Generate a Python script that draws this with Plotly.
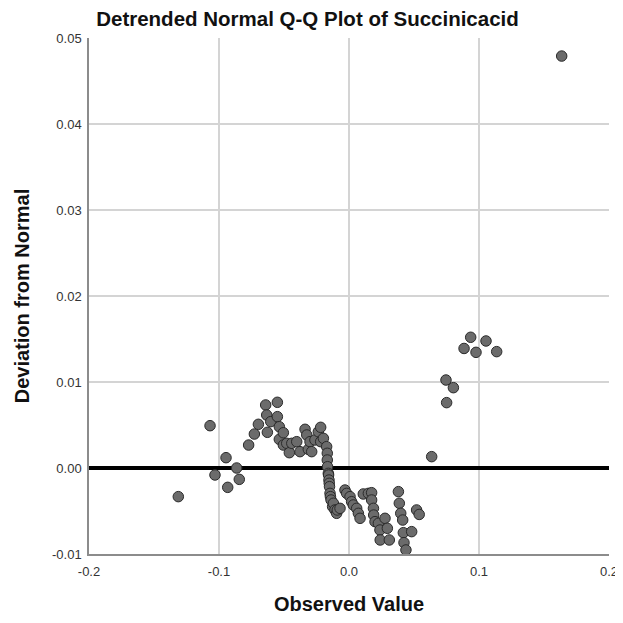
import plotly.graph_objects as go

observed = [
    -0.1313, -0.1069, -0.1031, -0.0946, -0.0933, -0.0864, -0.0844, -0.0772, -0.0728, -0.0697,
    -0.0641, -0.0633, -0.0628, -0.0602, -0.0551, -0.0551, -0.0536, -0.0536, -0.0505, -0.0505,
    -0.0479, -0.0459, -0.0440, -0.0402, -0.0377, -0.0338, -0.0325, -0.0313, -0.0300, -0.0287,
    -0.0262, -0.0236, -0.0218, -0.0218, -0.0197, -0.0172, -0.0167, -0.0167, -0.0165, -0.0159,
    -0.0157, -0.0154, -0.0152, -0.0150, -0.0146, -0.0143, -0.0138, -0.0126, -0.0120, -0.0108,
    -0.0095, -0.0090, -0.0069, -0.0031, -0.0018, 0.0008, 0.0020, 0.0033, 0.0059, 0.0072,
    0.0085, 0.0110, 0.0149, 0.0174, 0.0174, 0.0188, 0.0190, 0.0200, 0.0226, 0.0238,
    0.0240, 0.0277, 0.0295, 0.0310, 0.0380, 0.0387, 0.0398, 0.0413, 0.0418, 0.0423,
    0.0438, 0.0482, 0.0520, 0.0540, 0.0636, 0.0746, 0.0751, 0.0803, 0.0885, 0.0936,
    0.0977, 0.1054, 0.1136, 0.1636,
]
deviation = [
    -0.00333, 0.00492, -0.00081, 0.00120, -0.00225, 0.00000, -0.00132, 0.00267, 0.00395, 0.00508,
    0.00733, 0.00616, 0.00415, 0.00539, 0.00764, 0.00597, 0.00480, 0.00333, 0.00410, 0.00267,
    0.00287, 0.00178, 0.00287, 0.00306, 0.00190, 0.00450, 0.00384, 0.00217, 0.00306, 0.00190,
    0.00326, 0.00422, 0.00473, 0.00306, 0.00345, 0.00248, 0.00171, 0.00093, 0.00015, -0.00062,
    -0.00081, -0.00140, -0.00178, -0.00217, -0.00295, -0.00333, -0.00372, -0.00450, -0.00410, -0.00488,
    -0.00527, -0.00488, -0.00469, -0.00256, -0.00295, -0.00333, -0.00392, -0.00430, -0.00469, -0.00527,
    -0.00585, -0.00302, -0.00295, -0.00287, -0.00372, -0.00469, -0.00547, -0.00624, -0.00643, -0.00721,
    -0.00837, -0.00585, -0.00701, -0.00837, -0.00275, -0.00410, -0.00527, -0.00605, -0.00752, -0.00868,
    -0.00953, -0.00740, -0.00488, -0.00540, 0.00132, 0.01023, 0.00760, 0.00934, 0.01390, 0.01520,
    0.01345, 0.01477, 0.01353, 0.04790,
]

x_ticks = [-0.2, -0.1, 0.0, 0.1, 0.2]
x_labels = ["-0.2", "-0.1", "0.0", "0.1", "0.2"]
y_ticks = [-0.01, 0.00, 0.01, 0.02, 0.03, 0.04, 0.05]
y_labels = ["-0.01", "0.00", "0.01", "0.02", "0.03", "0.04", "0.05"]

fig = go.Figure()
fig.add_trace(go.Scatter(
    x=observed, y=deviation, mode="markers",
    marker=dict(size=10.5, color="#6b6b6b", line=dict(color="#2a2a2a", width=1)),
    showlegend=False,
))

font = "Liberation Sans, Arial, sans-serif"
W = 615
H = 607
fig.update_layout(
    width=W, height=H,
    margin=dict(l=81, r=14, t=30, b=61),
    paper_bgcolor="white", plot_bgcolor="white",
    font=dict(family=font, color="#000000"),
    title=dict(text="<b>Detrended Normal Q-Q Plot of Succinicacid</b>", x=299.5/W, xanchor="center",
               y=1 - 11/H, yanchor="middle", font=dict(size=20.5, family=font, color="#111")),
    xaxis=dict(range=[-0.2, 0.2], tickvals=x_ticks, ticktext=x_labels, automargin=False,
               showgrid=True, gridcolor="#d4d4d4", gridwidth=1.5, zeroline=False,
               showline=True, linecolor="#8c8c8c", linewidth=1.5,
               ticks="outside", ticklen=5, tickcolor="rgba(0,0,0,0)",
               tickfont=dict(size=13, color="#333"),
               title=dict(text="<b>Observed Value</b>", font=dict(size=20, color="#111"), standoff=20)),
    yaxis=dict(range=[-0.01, 0.05], tickvals=y_ticks, ticktext=y_labels, automargin=False,
               showgrid=True, gridcolor="#d4d4d4", gridwidth=1.5,
               zeroline=True, zerolinecolor="#000000", zerolinewidth=3.5,
               showline=True, linecolor="#8c8c8c", linewidth=1.5,
               ticks="outside", ticklen=3, tickcolor="rgba(0,0,0,0)",
               tickfont=dict(size=13, color="#333"),
               title=dict(text="<b>Deviation from Normal</b>", font=dict(size=20, color="#111"), standoff=17)),
)
fig.write_html("out.html")
